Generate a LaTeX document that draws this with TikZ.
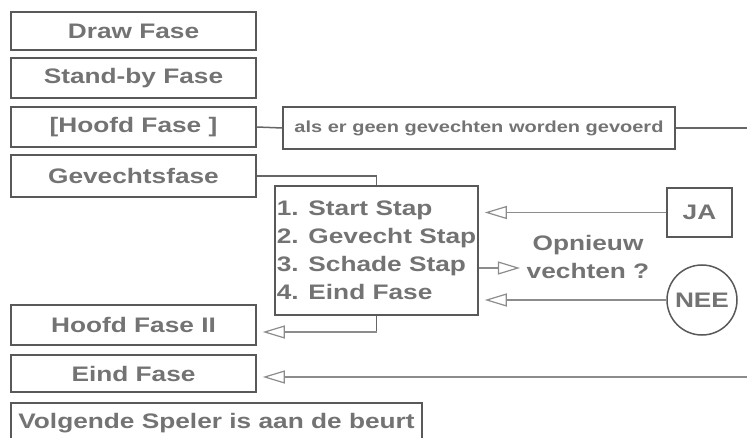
\documentclass[tikz,border=0pt]{standalone}
\usepackage{fontspec}
\usetikzlibrary{arrows.meta}
\newfontfamily\fasefont{Liberation Sans}[FakeStretch=1.25]
\tikzset{every picture/.style={line width=1.5pt}}
\tikzset{
  fasebox/.style={draw=black!65, inner sep=0pt, text=black!55, font=\fasefont\bfseries\fontsize{21}{28}\selectfont},
  kleinbox/.style={fasebox, font=\fasefont\bfseries\fontsize{16}{20}\selectfont},
  vrij/.style={text=black!55, inner sep=0pt, align=center, font=\fasefont\bfseries\fontsize{21}{28}\selectfont},
  lijn/.style={draw=black!60},
  pijl/.style={draw=black!45, -{Triangle[open, length=22pt, width=13pt, line width=1.2pt]}, shorten >=6pt},
}

\begin{document}
\begin{tikzpicture}[x=1pt,y=1pt,yscale=-1,xscale=1]
\useasboundingbox (0,0) rectangle (747,438);

%Shape: Rectangle [left column]
\node [fasebox, minimum width=245pt, minimum height=38pt] (draw) at (133.5,31) {Draw Fase};
\node [fasebox, minimum width=245pt, minimum height=40pt] (standby) at (133.5,78) {Stand-by Fase};
\node [fasebox, minimum width=245pt, minimum height=40pt] (hoofdI) at (133.5,127) {[Hoofd Fase ]};
\node [fasebox, minimum width=245pt, minimum height=42pt] (gevecht) at (133.5,176) {Gevechtsfase};
\node [fasebox, minimum width=245pt, minimum height=40pt] (hoofdII) at (133.5,325) {Hoofd Fase II};
\node [fasebox, minimum width=245pt, minimum height=37pt] (eind) at (133.5,373.5) {Eind Fase};
\node [fasebox, minimum width=411pt, minimum height=40pt] (volgende) at (216.5,423) {Volgende Speler is aan de beurt};

%Shape: Rectangle [geen gevechten]
\node [kleinbox, minimum width=392pt, minimum height=42pt] (geen) at (479,128) {als er geen gevechten worden gevoerd};

%Shape: Rectangle [stappen]
\node [fasebox, minimum width=203pt, minimum height=129pt, align=left] (stappen) at (376.5,250.5) {1. Start Stap\\2. Gevecht Stap\\3. Schade Stap\\4. Eind Fase};

%Shape: Rectangle + Circle [keuze]
\node [fasebox, minimum width=65pt, minimum height=49pt] (ja) at (699.5,212.5) {JA};
\node [fasebox, circle, minimum size=70pt] (nee) at (702,300) {NEE};

% Text Node
\node [vrij] (opnieuw) at (588,257) {Opnieuw\\vechten ?};

% Coordinates
\coordinate (rechtsboven) at (747,128);
\coordinate (rechtsonder) at (747,377);
\coordinate (knik) at (376.5,332);

%Straight Lines
\draw [lijn] (hoofdI.east) -- (geen.west);
\draw [lijn] (geen.east) -- (rechtsboven);
\draw [lijn] (gevecht.east) -| (stappen.north);
\draw [lijn] (stappen.south) -- (knik);
\draw [pijl] (knik) -- (hoofdII.east |- knik);
\draw [pijl] (rechtsonder) -- (eind.east |- rechtsonder);
\draw [pijl] (ja.west) -- (stappen.east |- ja.west);
\draw [pijl] (nee.west) -- (stappen.east |- nee.west);
\draw [pijl] (stappen.east |- 0,268) -- (opnieuw.west |- 0,268);

\end{tikzpicture}
\end{document}
